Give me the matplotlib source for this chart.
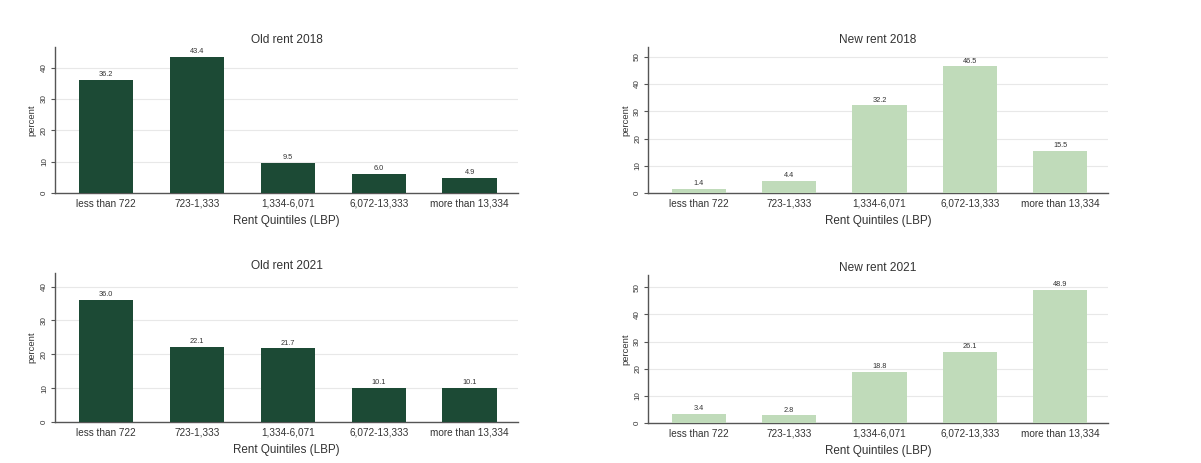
import numpy as np
import matplotlib
matplotlib.use('Agg')
import matplotlib.pyplot as plt

plt.rcParams['font.family'] = ['Liberation Sans', 'DejaVu Sans']

quintiles = ['less than 722', '723-1,333', '1,334-6,071', '6,072-13,333', 'more than 13,334']
old_2018 = [36.2, 43.4, 9.5, 6.0, 4.9]
new_2018 = [1.4, 4.4, 32.2, 46.5, 15.5]
old_2021 = [36.0, 22.1, 21.7, 10.1, 10.1]
new_2021 = [3.4, 2.8, 18.8, 26.1, 48.9]

dark = '#1c4a35'
light = '#c0dbba'

panels = [
    # title, values, colour, axes rect, ylim, yticks
    ('Old rent 2018', old_2018, dark, [0.0458, 0.5832, 0.3855, 0.3153], 46.6, [0, 10, 20, 30, 40]),
    ('New rent 2018', new_2018, light, [0.5396, 0.5832, 0.3830, 0.3153], 53.6, [0, 10, 20, 30, 40, 50]),
    ('Old rent 2021', old_2021, dark, [0.0458, 0.0886, 0.3855, 0.3218], 44.0, [0, 10, 20, 30, 40]),
    ('New rent 2021', new_2021, light, [0.5396, 0.0864, 0.3830, 0.3196], 54.5, [0, 10, 20, 30, 40, 50]),
]

fig = plt.figure(figsize=(12.01, 4.63), dpi=100)
x = np.arange(len(quintiles))
for title, vals, col, rect, ytop, yt in panels:
    ax = fig.add_axes(rect)
    ax.bar(x, vals, width=0.6, color=col, zorder=3)
    for xi, v in zip(x, vals):
        ax.text(xi, v + ytop * 0.012, '%.1f' % v, ha='center', va='bottom',
                fontsize=5.3, color='#333333')
    ax.set_xlim(-0.56, 4.53)
    ax.set_ylim(0, ytop)
    ax.set_yticks(yt)
    ax.set_yticklabels([str(t) for t in yt], rotation=90, va='center', fontsize=5.8, color='#333333')
    ax.yaxis.grid(True, color='#e8e8e8', linewidth=0.8, zorder=0)
    ax.set_xticks(x)
    ax.set_xticklabels(quintiles, fontsize=7.2, color='#333333')
    ax.tick_params(axis='x', length=0, pad=4)
    ax.tick_params(axis='y', length=3, width=0.8, color='#555555', pad=2)
    for s in ['top', 'right']:
        ax.spines[s].set_visible(False)
    for s in ['left', 'bottom']:
        ax.spines[s].set_color('#555555')
        ax.spines[s].set_linewidth(1.0)
    ax.set_title(title, fontsize=8.6, color='#333333', pad=3)
    ax.set_xlabel('Rent Quintiles (LBP)', fontsize=8.4, color='#333333', labelpad=5)
    ax.set_ylabel('percent', fontsize=6.8, color='#333333', labelpad=3)

fig.savefig('out.png', dpi=100)
